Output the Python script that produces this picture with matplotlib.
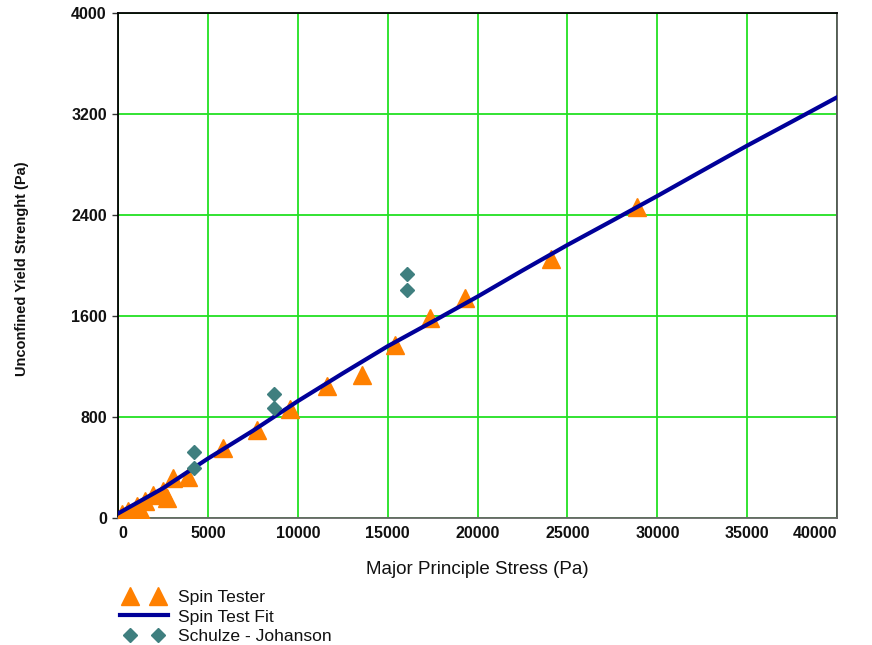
import matplotlib
matplotlib.use('Agg')
import matplotlib.pyplot as plt
from matplotlib.legend_handler import HandlerLine2D

plt.rcParams['font.family'] = ['Liberation Sans', 'DejaVu Sans']

# Spin Tester (triangles)
spinX = [220, 560, 670, 1060, 1340, 1500, 1950, 2500, 2700, 3060, 3900,
         5840, 7730, 9570, 11610, 13560, 15410, 17360, 19300, 24090, 28870]
spinY = [32, 55, 16, 95, 40, 135, 180, 214, 160, 317, 327,
         550, 695, 863, 1041, 1135, 1366, 1584, 1743, 2051, 2463]

# Spin Test Fit (line)
fitX = [0, 2500, 5000, 7500, 10000, 12500, 15000, 17500, 20000, 22500,
        25000, 27500, 30000, 32500, 35000, 37500, 40000]
fitY = [35, 235, 470, 690, 925, 1145, 1360, 1555, 1753, 1960,
        2162, 2355, 2550, 2750, 2949, 3140, 3332]

# Schulze - Johanson (diamonds)
sjX = [4228, 4228, 8679, 8679, 16078, 16078]
sjY = [523, 396, 982, 871, 1933, 1806]

xticks = [0, 5000, 10000, 15000, 20000, 25000, 30000, 35000, 40000]
yticks = [0, 800, 1600, 2400, 3200, 4000]

fig = plt.figure(figsize=(8.72, 6.45), dpi=100)
ax = fig.add_axes([0.1353, 0.197, 0.8247, 0.783])

ax.grid(True, color='#22E022', lw=1.3, zorder=0)
ax.set_axisbelow(True)

spinPts, = ax.plot(spinX, spinY, linestyle='none', marker='^', ms=13.5, color='#FF8000',
                   mec='#FF8000', label='Spin Tester', zorder=3)
fitLine, = ax.plot(fitX, fitY, color='#000099', lw=3, label='Spin Test Fit', zorder=4)
sjPts, = ax.plot(sjX, sjY, linestyle='none', marker='D', ms=7.5, color='#3F7F7F',
                 mec='#3F7F7F', label='Schulze - Johanson', zorder=5)

ax.set_xlim(0, 40000)
ax.set_ylim(0, 4000)
ax.set_xticks(xticks)
ax.set_yticks(yticks)
ax.set_xticklabels([str(t) for t in xticks], fontsize=11.5, fontweight='bold')
ax.set_yticklabels([str(t) for t in yticks], fontsize=11.5, fontweight='bold')
labs = ax.get_xticklabels()
labs[0].set_ha('left')
labs[-1].set_ha('right')
ax.tick_params(axis='both', direction='out', length=4, width=1, colors='#333333',
               labelcolor='#111111', pad=4)
ax.tick_params(axis='x', length=0, pad=6)

ax.spines['top'].set_color('black')
ax.spines['left'].set_color('black')
ax.spines['right'].set_color('#555555')
ax.spines['bottom'].set_color('#666666')
for s in ax.spines.values():
    s.set_linewidth(1.3)

ax.set_xlabel('Major Principle Stress (Pa)', fontsize=13.5, labelpad=14, color='#111111')
fig.text(0.025, 0.583, 'Unconfined Yield Strenght (Pa)', rotation=90,
         fontsize=10.5, fontweight='bold', ha='center', va='center',
         color='#111111')

# legend: line fills the handle, markers sit a bit inside it
fig.legend([spinPts, fitLine, sjPts],
           ['Spin Tester', 'Spin Test Fit', 'Schulze - Johanson'],
           loc='upper left', bbox_to_anchor=(0.1376, 0.086),
           frameon=False, numpoints=2, handlelength=2.75, fontsize=12.6,
           labelspacing=0.26, handletextpad=0.58, borderaxespad=0, borderpad=0,
           handler_map={fitLine: HandlerLine2D(marker_pad=0),
                        spinPts: HandlerLine2D(marker_pad=0.58),
                        sjPts: HandlerLine2D(marker_pad=0.58)},
           labelcolor='#111111')

plt.savefig('out.png', dpi=100)
